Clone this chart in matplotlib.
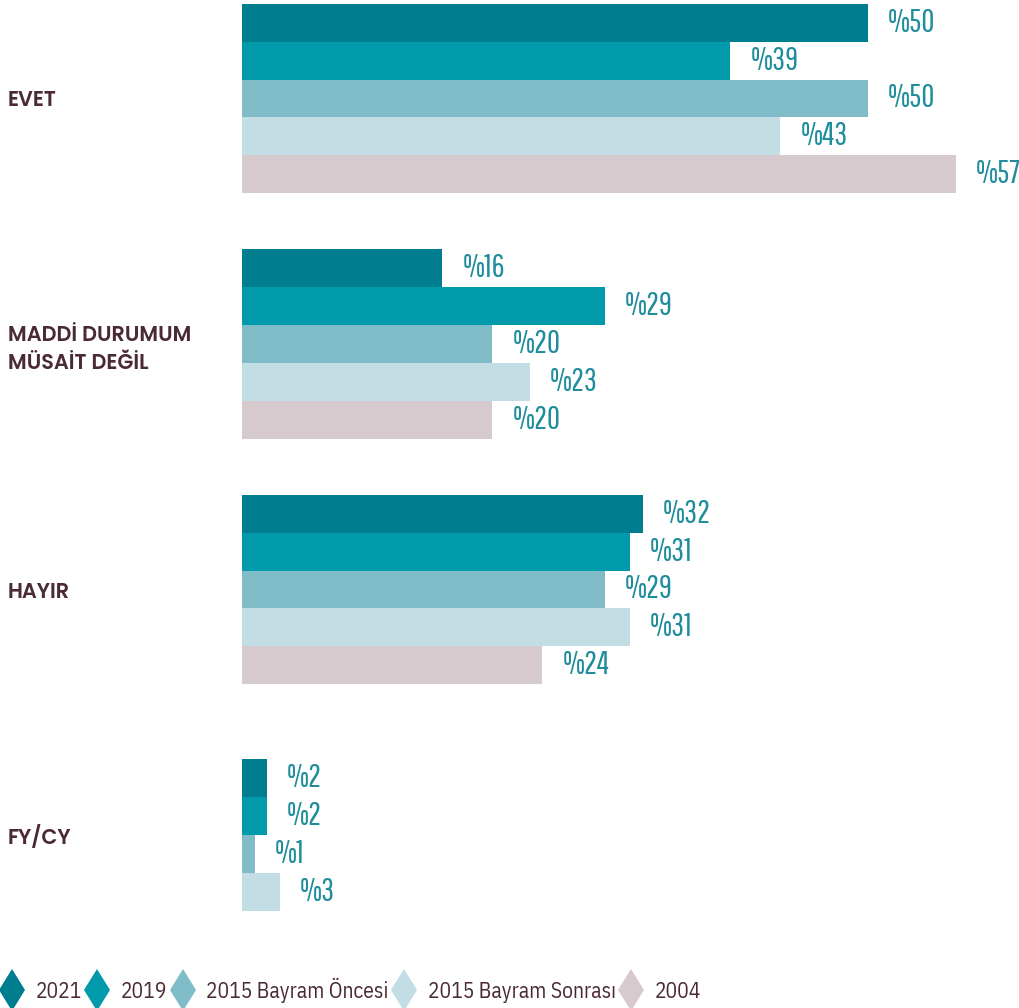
import matplotlib.pyplot as plt
from matplotlib.lines import Line2D
import numpy as np

# data
categories = ["EVET", "MADDİ DURUMUM\nMÜSAİT DEĞİL", "HAYIR", "FY/CY"]
series = ["2021", "2019", "2015 Bayram Öncesi", "2015 Bayram Sonrası", "2004"]
colors = ["#007d8f", "#009aab", "#7fbcc8", "#c2dde4", "#d6cacf"]
values = {
    "2021": [50, 16, 32, 2],
    "2019": [39, 29, 31, 2],
    "2015 Bayram Öncesi": [50, 20, 29, 1],
    "2015 Bayram Sonrası": [43, 23, 31, 3],
    "2004": [57, 20, 24, None],
}

num_font = ["Pathway Gothic One", "Barlow Condensed", "DejaVu Sans"]
cat_font = ["Poppins", "Open Sans", "DejaVu Sans"]
leg_font = ["IBM Plex Sans Condensed", "Barlow Semi Condensed", "DejaVu Sans"]

W, H = 1020, 1008
fig = plt.figure(figsize=(W / 100, H / 100), dpi=100)
ax = fig.add_axes([242 / W, (H - 940) / H, 1 - 242 / W, 940 / H])

h = 0.154  # bar height (group pitch = 1)
for i, cat in enumerate(categories):
    present = [s for s in series if values[s][i] is not None]
    n = len(present)
    for j, s in enumerate(present):
        v = values[s][i]
        y = i + (j - (n - 1) / 2) * h
        ax.barh(y, v, height=h, color=colors[series.index(s)], linewidth=0)
        ax.text(v + 1.6, y, "%" + str(v), va="center", ha="left",
                fontsize=23, color="#1f8d9c", family=num_font)

ax.set_xlim(0, (W - 242) / 12.52)
ax.set_ylim((940 - 98.5) / 245.5, -98.5 / 245.5)
ax.set_yticks(range(len(categories)))
ax.set_yticklabels(categories, ha="left", fontsize=15, color="#4a2a35",
                   family=cat_font, fontweight=600, linespacing=1.35)
ax.tick_params(axis="y", length=0, pad=(242 - 8) * 0.72)
ax.set_xticks([])
for sp in ax.spines.values():
    sp.set_visible(False)

handles = [Line2D([], [], marker="d", linestyle="none", markersize=21.6,
                  markerfacecolor=c, markeredgewidth=0) for c in colors]
leg = fig.legend(handles, series, loc="center left", bbox_to_anchor=(1 / W, 1 - 990 / H),
                 ncol=5, frameon=False, handletextpad=0.6, columnspacing=0.22,
                 handlelength=1.0, borderpad=0, borderaxespad=0,
                 prop={"family": leg_font, "size": 15.5})
for t in leg.get_texts():
    t.set_color("#4a2a35")

fig.savefig("out.png", dpi=100)
